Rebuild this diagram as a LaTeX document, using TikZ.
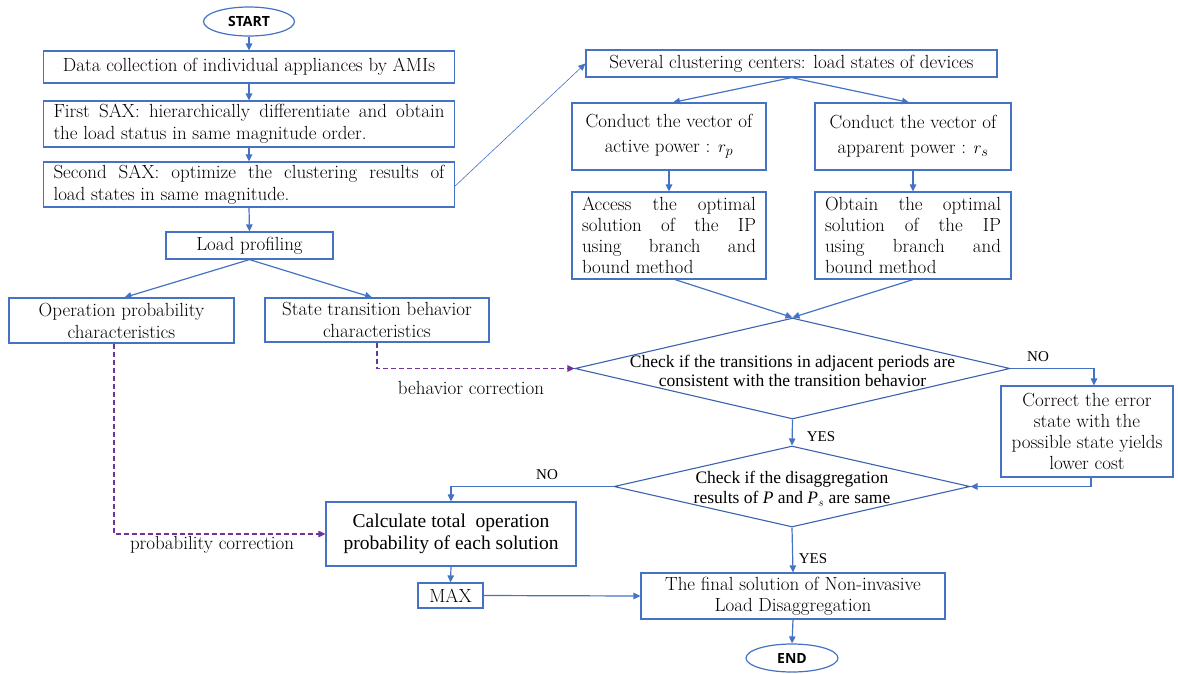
\documentclass[tikz,border=0pt]{standalone}
\usepackage{fontspec}
\usetikzlibrary{arrows.meta,shapes.geometric,calc}
\newfontfamily\tnr{Liberation Serif}
\newfontfamily\sansbold{Open Sans}
\definecolor{lineblue}{HTML}{4472C4}
\definecolor{darkblue}{HTML}{3A62AE}
\definecolor{dashpurple}{HTML}{7030A0}
\newcommand{\jline}[2]{\makebox[#1][s]{#2}}
\begin{document}
\begin{tikzpicture}[x=1pt,y=-1pt,
  box/.style={draw=lineblue, line width=1.2pt, rectangle, inner sep=0pt, align=center,
    font=\fontsize{19}{22}\selectfont},
  tbox/.style={box, font=\tnr\fontsize{19.5}{22}\selectfont},
  term/.style={draw=lineblue, line width=1.2pt, ellipse, inner sep=0pt,
    font=\sansbold\bfseries\fontsize{14}{16}\selectfont},
  dec/.style={draw=darkblue, line width=1.1pt, diamond, inner sep=0pt},
  dtext/.style={align=center, font=\tnr\fontsize{17.5}{19}\selectfont, inner sep=0pt},
  lbl/.style={font=\tnr\fontsize{15}{17}\selectfont, inner sep=0pt},
  plbl/.style={font=\fontsize{19}{21}\selectfont, inner sep=0pt},
  arr/.style={draw=lineblue, line width=1.2pt, -{Triangle[length=7pt,width=6.5pt]}},
  thinarr/.style={draw=lineblue, line width=0.6pt, -{Triangle[length=7pt,width=6.5pt]}},
  purparr/.style={draw=dashpurple, line width=1.2pt, dash pattern=on 5pt off 3pt,
    -{Triangle[length=7pt,width=6.5pt]}}
]
\useasboundingbox (0,0) rectangle (1178,673);

% left column
\node[term, minimum width=91, minimum height=29] (start) at (249,21.5) {START};
\node[box, minimum width=411, minimum height=32] (b1) at (249,67)
  {Data collection of individual appliances by AMIs};
\node[box, minimum width=411, minimum height=46, align=left] (b2) at (249,124)
  {\jline{391pt}{First SAX: hierarchically differentiate and obtain}\\the load status in same magnitude order.};
\node[box, minimum width=411, minimum height=45, align=left] (b3) at (249,184.5)
  {\jline{391pt}{Second SAX: optimize the clustering results of}\\load states in same magnitude.};
\node[box, minimum width=167, minimum height=27] (lp) at (249.5,245.5) {Load profiling};
\node[box, minimum width=225, minimum height=45] (op) at (121.5,320.5)
  {Operation probability\\characteristics};
\node[box, minimum width=224, minimum height=44] (st) at (377,320)
  {State transition behavior\\characteristics};

% right column
\node[box, minimum width=411, minimum height=27] (cc) at (791.5,63.5)
  {Several clustering centers: load states of devices};
\node[box, minimum width=194, minimum height=67] (ap) at (669,136.5)
  {Conduct the vector of\\[3pt]active power : $r_p$};
\node[box, minimum width=196, minimum height=67] (sp) at (913,136.5)
  {Conduct the vector of\\[3pt]apparent power : $r_s$};
\node[box, minimum width=194, minimum height=87, align=left, font=\fontsize{19}{21}\selectfont] (acc) at (669,235.5)
  {\jline{174pt}{Access the optimal}\\\jline{174pt}{solution of the IP}\\\jline{174pt}{using branch and}\\bound method};
\node[box, minimum width=196, minimum height=87, align=left, font=\fontsize{19}{21}\selectfont] (obt) at (913,235.5)
  {\jline{176pt}{Obtain the optimal}\\\jline{176pt}{solution of the IP}\\\jline{176pt}{using branch and}\\bound method};

\node[dec, minimum width=435, minimum height=101] (d1) at (792.5,368.5) {};
\node[dtext] (d1t) at (792.5,371) {Check if the transitions in adjacent periods are\\consistent with the transition behavior};

\node[box, minimum width=172, minimum height=91, font=\fontsize{19}{21}\selectfont] (cor) at (1087,431.5)
  {Correct the error\\state with the\\possible state yields\\lower cost};

\node[dec, minimum width=356, minimum height=81] (d2) at (792,486.5) {};
\node[dtext, font=\tnr\fontsize{17.5}{20}\selectfont] (d2t) at (792,489)
  {Check if the disaggregation\\results of \textit{P} and \textit{P}$_s$ are same};

\node[tbox, minimum width=250, minimum height=64] (calc) at (451,534)
  {Calculate total\ \ operation\\probability of each solution};
\node[box, minimum width=65, minimum height=25] (max) at (450.5,595.5) {MAX};
\node[box, minimum width=304, minimum height=46, font=\fontsize{19}{21}\selectfont] (fin) at (793,596)
  {The final solution of Non-invasive\\Load Disaggregation};
\node[term, minimum width=92, minimum height=28] (end) at (792,658) {END};

% connectors
\draw[arr] (start.south) -- (b1.north);
\draw[arr] (b1.south) -- (b2.north);
\draw[arr] (b2.south) -- (b3.north);
\draw[arr] (b3.south) -- (lp.north);
\draw[arr] (lp.south) -- ([xshift=3pt]op.north);
\draw[arr] (lp.south) -- ([xshift=-5pt]st.north);
\draw[thinarr] ([yshift=-1.5pt]b3.east) -- (cc.west);
\draw[arr] (cc.south) -- ([xshift=4pt]ap.north);
\draw[arr] (cc.south) -- ([xshift=-4pt]sp.north);
\draw[arr] (ap.south) -- (acc.north);
\draw[arr] (sp.south) -- (obt.north);
\draw[arr] ([xshift=6pt]acc.south) -- (d1.north);
\draw[arr] (obt.south) -- (d1.north);
\draw[arr] (d1.south) -- (d2.north);
\node[lbl] (yes1) at (821,437) {YES};
\draw[arr] (d1.east) -| ([xshift=7pt]cor.north);
\node[lbl] (no1) at (1038,357) {NO};
\draw[arr] ([xshift=4pt]cor.south) |- (d2.east);
\draw[arr] (d2.west) -| (calc.north);
\node[lbl] (no2) at (547,475) {NO};
\draw[arr] (d2.south) -- (fin.north);
\node[lbl] (yes2) at (813,559) {YES};
\draw[arr] (calc.south) -- (max.north);
\draw[arr] (max.east) -- (fin.west);
\draw[arr] (fin.south) -- (end.north);

\draw[purparr] ([xshift=-7.5pt]op.south) |- (calc.west);
\node[plbl] (pc) at (212,545) {probability correction};
\draw[purparr] (st.south) |- (d1.west);
\node[plbl] (bc) at (471,388) {behavior correction};
\end{tikzpicture}
\end{document}
